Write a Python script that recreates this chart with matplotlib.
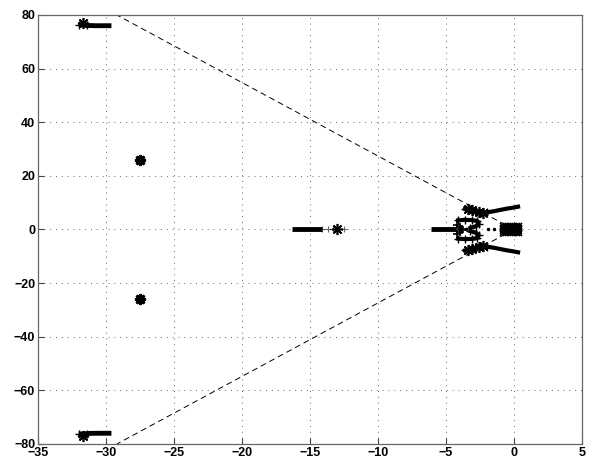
import numpy as np
import matplotlib.pyplot as plt

plt.rcParams['font.family'] = ['Liberation Sans', 'DejaVu Sans']

# far complex pair (upper half, mirrored below)
far_x = [-32.0, -31.4, -30.8, -30.2, -29.6]
far_y = [76.3, 76.1, 76.0, 76.0, 76.0]
far_star = (-31.7, 76.9)

# isolated complex pair
iso_star = (-27.5, 25.8)

# real-axis branch near -15
real1_x = [-16.3, -15.5, -14.8, -14.1]
real1_tail = [-14.1, -13.7, -13.3, -12.9, -12.5]
real1_star = -13.0

# real-axis branch near -5
real2_x = [-6.1, -5.5, -4.9, -4.3]
real2_tail = [-4.3, -4.0, -3.8]

# S-shaped cluster (upper half)
s_x = [-4.1, -3.6, -3.1, -2.7, -2.6, -2.8, -3.2]
s_y = [3.4, 3.6, 3.5, 3.2, 2.2, 1.2, 0.6]
s_left_x = [-4.2, -4.0, -3.8]
s_left_y = [1.6, 0.8, 0.3]
s_dots = [-3.5, -1.9, -1.5]

# cluster at the origin
o_x = [-0.8, -0.55, -0.3, -0.05, 0.2, 0.35]
o_y = [-1.3, -0.7, 0.0, 0.7, 1.4]

# complex branch near the origin (upper half)
u_x = [-3.6, -3.3, -3.0, -2.7, -2.4, -2.0, -1.5, -1.0, -0.5, 0.0, 0.3]
u_y = [7.8, 7.4, 7.0, 6.6, 6.3, 6.4, 6.8, 7.3, 7.8, 8.2, 8.5]
u_stars_x = [-3.4, -3.1, -2.6, -2.3]
u_stars_y = [7.6, 7.2, 6.4, 6.2]

# damping lines
damp_x = [0, -29.2]
damp_y = [0, 80]

AST = (8, 2, 0)

fig = plt.figure(figsize=(5.9, 4.61), dpi=100)
ax = fig.add_axes([0.0644, 0.0369, 0.922, 0.9306])

k = 'black'
for sgn in (1, -1):
    ax.plot(damp_x, [sgn * v for v in damp_y], color=k, lw=0.7, ls=(0, (6, 4)))

    fy = [sgn * v for v in far_y]
    ax.plot(far_x, fy, color=k, lw=3.5, solid_capstyle='butt')
    ax.plot(far_star[0], sgn * far_star[1], marker=AST, color=k, ms=8, mew=1.2)
    ax.plot(far_x[:2], fy[:2], '+', color=k, ms=6, mew=1)

    ax.plot(iso_star[0], sgn * iso_star[1], marker=AST, color=k, ms=8, mew=2)

    sy = [sgn * v for v in s_y]
    ax.plot(s_x, sy, color=k, lw=3)
    ax.plot(s_x, sy, '+', color=k, ms=6, mew=1)
    ax.plot(s_left_x, [sgn * v for v in s_left_y], '+', color=k, ms=6, mew=1.2)

    uy = [sgn * v for v in u_y]
    ax.plot(u_x, uy, color=k, lw=3)
    ax.plot(u_x[:6], uy[:6], '+', color=k, ms=6, mew=1)
    ax.plot(u_stars_x, [sgn * v for v in u_stars_y], ls='none', marker=AST,
            color=k, ms=8, mew=1.2)

ax.plot(real1_x, np.zeros(len(real1_x)), color=k, lw=3.5, solid_capstyle='butt')
ax.plot(real1_tail, np.zeros(len(real1_tail)), '+', color=k, ms=5, mew=0.8, alpha=0.6)
ax.plot(real1_star, 0, marker=AST, color=k, ms=8, mew=1.2)

ax.plot(real2_x, np.zeros(len(real2_x)), color=k, lw=3.5, solid_capstyle='butt')
ax.plot(real2_tail, np.zeros(len(real2_tail)), '+', color=k, ms=5, mew=0.8, alpha=0.6)

ax.plot(s_dots, np.zeros(len(s_dots)), '.', color=k, ms=3)

ox, oy = np.meshgrid(o_x, o_y)
ax.plot(ox.ravel(), oy.ravel(), 'x', color=k, ms=5, mew=1.2)
ax.plot(ox.ravel(), oy.ravel(), '+', color=k, ms=5, mew=1.2)

ax.set_xlim(-35, 5)
ax.set_ylim(-80, 80)
ax.set_xticks(np.arange(-35, 6, 5))
ax.set_yticks(np.arange(-80, 81, 20))
ax.grid(True, color='#666666', ls=(0, (1, 5)), lw=0.7)
ax.tick_params(direction='in', length=4, labelsize=9, color='#444444', pad=2)
for lbl in ax.get_xticklabels() + ax.get_yticklabels():
    lbl.set_fontweight('bold')
for sp in ax.spines.values():
    sp.set_color('#666666')
    sp.set_linewidth(0.9)

fig.savefig('out.png', dpi=100)
